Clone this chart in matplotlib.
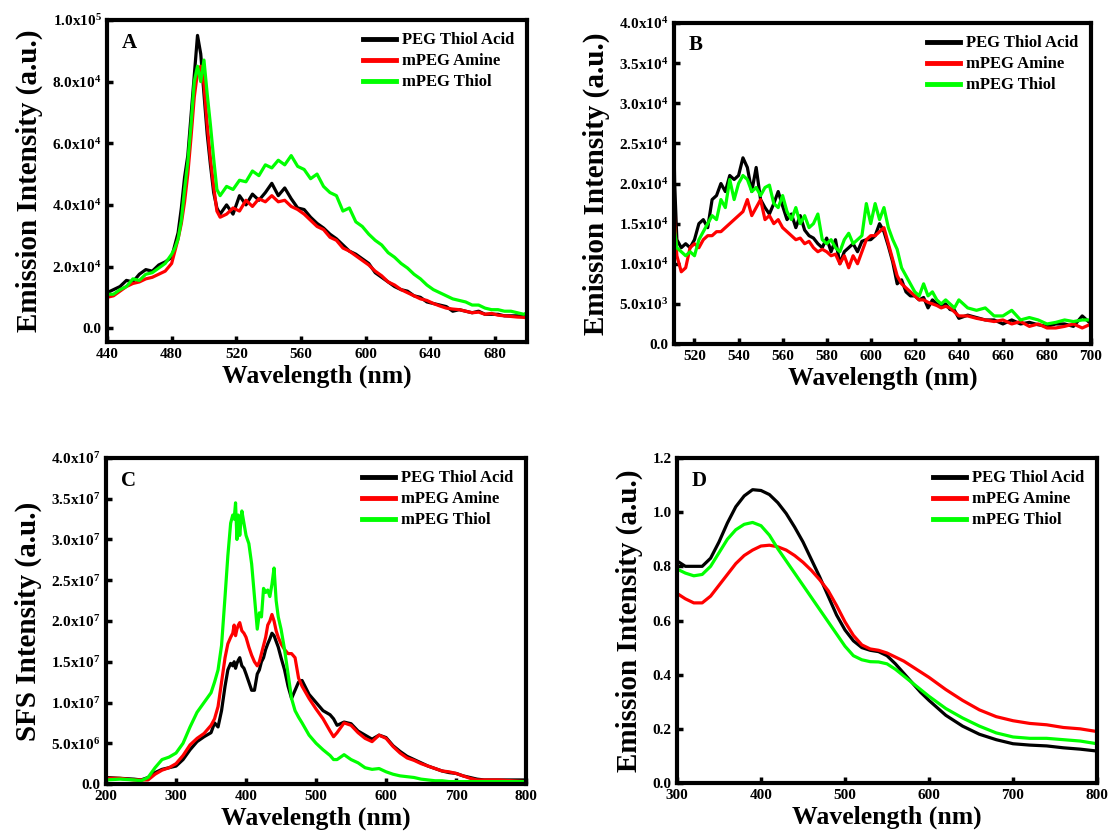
import numpy as np
import matplotlib
matplotlib.use("Agg")
import matplotlib.pyplot as plt
from matplotlib.ticker import FuncFormatter, FixedLocator

plt.rcParams['font.family'] = ['Liberation Serif', 'DejaVu Serif']
plt.rcParams['font.weight'] = 'bold'
plt.rcParams['mathtext.default'] = 'regular'

series_names = ['PEG Thiol Acid', 'mPEG Amine', 'mPEG Thiol']
series_colors = ['#000000', '#ff0000', '#00ff00']

# ---- Panel A: emission (x1e4) ----
wl_a = [440, 444, 448, 452, 456, 460, 464, 468, 472, 476, 480,
        482, 484, 486, 488, 490, 492, 494, 496, 498, 500, 502, 504, 506, 508, 510,
        514, 518, 522, 526, 530, 534, 538, 542, 546, 550,
        554, 558, 562, 566, 570, 574, 578, 582, 586, 590,
        594, 598, 602, 606, 610, 614, 618, 622, 626, 630,
        634, 638, 642, 646, 650, 654, 658, 662, 666, 670,
        674, 678, 682, 686, 690, 694, 698, 700]
a_acid = [1.15, 1.25, 1.35, 1.55, 1.5, 1.75, 1.9, 1.85, 2.05, 2.15, 2.3,
          2.7, 3.1, 3.9, 4.9, 5.6, 6.9, 8.2, 9.5, 8.9, 7.6, 6.3, 5.3, 4.4, 3.9, 3.7,
          4.0, 3.7, 4.3, 4.0, 4.35, 4.15, 4.4, 4.7, 4.3, 4.55,
          4.2, 3.9, 3.85, 3.6, 3.4, 3.25, 3.05, 2.9, 2.7, 2.5,
          2.4, 2.25, 2.1, 1.8, 1.65, 1.5, 1.35, 1.25, 1.2, 1.05,
          1.0, 0.85, 0.8, 0.75, 0.7, 0.55, 0.6, 0.55, 0.5, 0.55,
          0.45, 0.45, 0.45, 0.4, 0.4, 0.4, 0.38, 0.35]
a_amine = [1.0, 1.05, 1.2, 1.35, 1.45, 1.5, 1.6, 1.65, 1.75, 1.85, 2.1,
           2.5, 2.9, 3.4, 4.1, 5.0, 6.2, 7.5, 8.3, 8.5, 7.9, 6.6, 5.5, 4.6, 3.8, 3.6,
           3.7, 3.9, 3.8, 4.15, 3.95, 4.2, 4.1, 4.3, 4.1, 4.15,
           3.95, 3.85, 3.7, 3.5, 3.3, 3.2, 2.95, 2.85, 2.6, 2.5,
           2.35, 2.2, 2.05, 1.85, 1.7, 1.5, 1.4, 1.25, 1.15, 1.05,
           0.95, 0.9, 0.8, 0.72, 0.65, 0.62, 0.6, 0.55, 0.5, 0.52,
           0.45, 0.48, 0.42, 0.4, 0.38, 0.36, 0.35, 0.33]
a_thiol = [1.1, 1.1, 1.25, 1.35, 1.6, 1.55, 1.75, 1.8, 1.95, 2.1, 2.4,
           2.6, 2.9, 3.5, 4.5, 5.4, 6.6, 8.0, 8.5, 8.0, 8.7, 7.6, 6.6, 5.5, 4.5, 4.3,
           4.6, 4.5, 4.8, 4.75, 5.1, 4.95, 5.3, 5.2, 5.45, 5.3,
           5.6, 5.25, 5.15, 4.85, 5.0, 4.6, 4.4, 4.3, 3.8, 3.9,
           3.45, 3.3, 3.05, 2.85, 2.7, 2.45, 2.3, 2.1, 1.95, 1.75,
           1.6, 1.4, 1.25, 1.15, 1.05, 0.95, 0.9, 0.85, 0.75, 0.75,
           0.65, 0.6, 0.6, 0.55, 0.55, 0.5, 0.45, 0.5]

# ---- Panel B: emission (x1e4) ----
wl_b = [510, 511, 512, 514, 516, 518, 520, 522, 524, 526, 528, 530,
        532, 534, 536, 538, 540, 542, 544, 546, 548, 550,
        552, 554, 556, 558, 560, 562, 564, 566, 568, 570,
        572, 574, 576, 578, 580, 582, 584, 586, 588, 590,
        592, 594, 596, 598, 600, 602, 604, 606, 608, 610,
        612, 614, 616, 618, 620, 622, 624, 626, 628, 630,
        632, 634, 636, 638, 640, 644, 648, 652, 656, 660,
        664, 668, 672, 676, 680, 684, 688, 692, 696, 700]
b_acid = [3.6, 2.0, 1.3, 1.2, 1.25, 1.2, 1.3, 1.5, 1.55, 1.45, 1.8, 1.85,
          2.0, 1.9, 2.1, 2.05, 2.1, 2.32, 2.2, 1.9, 2.2, 1.8,
          1.7, 1.62, 1.75, 1.9, 1.72, 1.55, 1.62, 1.45, 1.6, 1.42,
          1.35, 1.32, 1.25, 1.2, 1.32, 1.15, 1.3, 1.0, 1.15, 1.2,
          1.25, 1.15, 1.28, 1.3, 1.3, 1.35, 1.5, 1.4, 1.22, 1.02,
          0.75, 0.8, 0.65, 0.6, 0.6, 0.55, 0.58, 0.45, 0.55, 0.5,
          0.47, 0.5, 0.43, 0.42, 0.32, 0.36, 0.33, 0.3, 0.3, 0.25,
          0.3, 0.25, 0.27, 0.24, 0.22, 0.25, 0.25, 0.22, 0.35, 0.25]
b_amine = [2.6, 1.5, 1.1, 0.9, 0.95, 1.2, 1.25, 1.2, 1.3, 1.35, 1.35, 1.4,
           1.4, 1.45, 1.5, 1.55, 1.6, 1.65, 1.8, 1.6, 1.7, 1.8,
           1.55, 1.6, 1.5, 1.55, 1.45, 1.4, 1.35, 1.3, 1.32, 1.25,
           1.28, 1.2, 1.15, 1.18, 1.15, 1.1, 1.12, 1.0, 1.1, 0.95,
           1.1, 1.0, 1.15, 1.3, 1.35, 1.35, 1.4, 1.45, 1.25, 1.05,
           0.85, 0.75, 0.7, 0.65, 0.6, 0.55, 0.55, 0.52, 0.5, 0.48,
           0.45, 0.47, 0.45, 0.4, 0.35, 0.35, 0.32, 0.3, 0.28, 0.3,
           0.25, 0.28, 0.22, 0.25, 0.2, 0.2, 0.22, 0.25, 0.2, 0.25]
b_thiol = [2.0, 1.4, 1.2, 1.15, 1.1, 1.15, 1.1, 1.3, 1.4, 1.5, 1.6, 1.55,
           1.8, 1.7, 2.05, 1.8, 2.0, 2.1, 2.05, 1.9, 1.95, 1.85,
           1.95, 1.98, 1.75, 1.7, 1.85, 1.65, 1.55, 1.7, 1.5, 1.6,
           1.45, 1.5, 1.62, 1.3, 1.25, 1.3, 1.2, 1.15, 1.3, 1.38,
           1.25, 1.3, 1.35, 1.75, 1.5, 1.75, 1.55, 1.7, 1.45, 1.3,
           1.18, 0.95, 0.85, 0.75, 0.65, 0.6, 0.75, 0.6, 0.65, 0.55,
           0.5, 0.55, 0.5, 0.45, 0.55, 0.45, 0.42, 0.45, 0.35, 0.35,
           0.42, 0.3, 0.33, 0.3, 0.25, 0.27, 0.3, 0.28, 0.3, 0.3]

# ---- Panel C: SFS (x1e7) ----
wl_c = [200, 220, 240, 250, 260, 270, 280, 290, 300, 310,
        320, 330, 340, 350, 355, 360, 365, 370, 374, 378,
        381, 383, 385, 387, 389, 391, 394, 397, 400, 404,
        408, 412, 416, 419, 422, 425, 428, 431, 434, 437,
        440, 443, 446, 450, 455, 460, 465, 470, 475, 480,
        490, 500, 510, 520, 525, 530, 540, 550, 560, 570,
        580, 590, 600, 610, 620, 630, 640, 650, 660, 670,
        680, 690, 700, 710, 720, 730, 740, 760, 780, 800]
c_acid = [0.08, 0.07, 0.06, 0.05, 0.08, 0.14, 0.18, 0.2, 0.22, 0.3,
          0.42, 0.52, 0.58, 0.63, 0.75, 0.7, 0.9, 1.2, 1.4, 1.48,
          1.45, 1.5, 1.42, 1.48, 1.52, 1.55, 1.45, 1.42, 1.35, 1.25,
          1.15, 1.15, 1.35, 1.4, 1.5, 1.55, 1.65, 1.72, 1.78, 1.85,
          1.82, 1.75, 1.68, 1.55, 1.4, 1.2, 1.05, 1.15, 1.25, 1.27,
          1.1, 1.0, 0.9, 0.85, 0.8, 0.72, 0.76, 0.74, 0.65, 0.6,
          0.55, 0.6, 0.57, 0.47, 0.4, 0.34, 0.3, 0.26, 0.22, 0.19,
          0.16, 0.14, 0.13, 0.1, 0.08, 0.06, 0.05, 0.05, 0.05, 0.05]
c_amine = [0.07, 0.07, 0.05, 0.05, 0.05, 0.12, 0.17, 0.2, 0.25, 0.35,
           0.48, 0.56, 0.62, 0.72, 0.8, 0.95, 1.25, 1.55, 1.72, 1.8,
           1.85, 1.95, 1.82, 1.9, 1.95, 1.98, 1.88, 1.85, 1.8, 1.68,
           1.58, 1.5, 1.45, 1.5, 1.6, 1.7, 1.8, 1.95, 2.0, 2.08,
           2.0, 1.88, 1.8, 1.72, 1.65, 1.6, 1.6, 1.55, 1.3, 1.2,
           1.05, 0.92, 0.8, 0.65, 0.58, 0.63, 0.75, 0.72, 0.63, 0.56,
           0.52, 0.6, 0.56, 0.46, 0.38, 0.32, 0.29, 0.25, 0.22, 0.19,
           0.16, 0.15, 0.13, 0.1, 0.07, 0.05, 0.05, 0.05, 0.04, 0.03]
c_thiol = [0.05, 0.06, 0.05, 0.04, 0.08, 0.2, 0.3, 0.33, 0.38, 0.5,
           0.7, 0.88, 1.0, 1.12, 1.25, 1.4, 1.7, 2.3, 2.8, 3.2,
           3.3, 3.25, 3.45, 3.0, 3.3, 3.05, 3.35, 3.2, 3.05, 2.95,
           2.7, 2.3, 1.9, 2.1, 2.05, 2.4, 2.35, 2.38, 2.3, 2.45,
           2.65, 2.25, 2.05, 1.9, 1.65, 1.35, 1.05, 0.9, 0.82, 0.75,
           0.6, 0.5, 0.42, 0.35, 0.3, 0.3, 0.36, 0.3, 0.26, 0.2,
           0.18, 0.19, 0.15, 0.12, 0.1, 0.09, 0.08, 0.06, 0.05, 0.04,
           0.04, 0.03, 0.03, 0.03, 0.03, 0.03, 0.03, 0.03, 0.03, 0.03]

# ---- Panel D: normalized emission ----
wl_d = [300, 310, 320, 330, 340, 350, 360, 370, 380, 390,
        400, 410, 420, 430, 440, 450, 460, 470, 480, 490,
        500, 510, 520, 530, 540, 550, 560, 570, 580, 590,
        600, 620, 640, 660, 680, 700, 720, 740, 760, 780, 800]
d_acid = [0.82, 0.80, 0.80, 0.80, 0.83, 0.89, 0.96, 1.02, 1.06, 1.083,
          1.08, 1.065, 1.035, 0.995, 0.945, 0.89, 0.825, 0.76, 0.69, 0.62,
          0.565, 0.525, 0.5, 0.49, 0.485, 0.47, 0.44, 0.405, 0.37, 0.335,
          0.305, 0.25, 0.21, 0.18, 0.16, 0.145, 0.14, 0.137, 0.13, 0.125, 0.118]
d_amine = [0.70, 0.68, 0.665, 0.665, 0.69, 0.73, 0.77, 0.81, 0.84, 0.86,
           0.875, 0.878, 0.872, 0.86, 0.84, 0.815, 0.785, 0.75, 0.71, 0.655,
           0.595, 0.545, 0.51, 0.495, 0.49, 0.48, 0.465, 0.45, 0.43, 0.41,
           0.39, 0.345, 0.305, 0.27, 0.245, 0.23, 0.22, 0.215, 0.205, 0.2, 0.19]
d_thiol = [0.79, 0.775, 0.765, 0.77, 0.80, 0.85, 0.90, 0.935, 0.955, 0.962,
           0.95, 0.915, 0.865, 0.82, 0.775, 0.73, 0.685, 0.64, 0.595, 0.55,
           0.505, 0.47, 0.455, 0.448, 0.447, 0.44, 0.42, 0.395, 0.37, 0.345,
           0.32, 0.275, 0.24, 0.21, 0.185, 0.17, 0.165, 0.165, 0.16, 0.155, 0.145]


def sci_label(v, pos):
    if abs(v) < 1e-12:
        return "0.0"
    e = int(np.floor(np.log10(abs(v)) + 1e-9))
    m = v / 10 ** e
    return f"{m:.1f}x10$^{{{e}}}$"


def style_axes(ax, letter, ylabel):
    for sp in ax.spines.values():
        sp.set_linewidth(3)
    ax.tick_params(direction='in', length=4.5, width=2.5, labelsize=11,
                   top=False, right=False, pad=4)
    for lab in ax.get_xticklabels() + ax.get_yticklabels():
        lab.set_fontweight('bold')
    ax.set_xlabel('Wavelength (nm)', fontsize=18.5, fontweight='bold', labelpad=3)
    ax.set_ylabel(ylabel, fontsize=21, fontweight='bold', labelpad=7)
    ax.text(0.035, 0.93, letter, transform=ax.transAxes, fontsize=15,
            fontweight='bold', va='center', ha='left')
    ax.legend(loc='upper right', frameon=False,
              handlelength=2.0, handletextpad=0.35, labelspacing=0.3,
              borderaxespad=0.35, prop={'weight': 'bold', 'size': 12})


fig = plt.figure(figsize=(11.08, 8.33), dpi=100)

panels = [
    ([0.0966, 0.5894, 0.3791, 0.3866], wl_a, [a_acid, a_amine, a_thiol], 1e4, 'A',
     'Emission Intensity (a.u.)', (440, 700), (-4.5e3, 1e5),
     [440, 480, 520, 560, 600, 640, 680], [0, 2e4, 4e4, 6e4, 8e4, 1e5], True),
    ([0.6083, 0.5870, 0.3764, 0.3854], wl_b, [b_acid, b_amine, b_thiol], 1e4, 'B',
     'Emission Intensity (a.u.)', (510.7, 700), (0, 4e4),
     [520, 540, 560, 580, 600, 620, 640, 660, 680, 700],
     [0, 5e3, 1e4, 1.5e4, 2e4, 2.5e4, 3e4, 3.5e4, 4e4], True),
    ([0.0957, 0.0588, 0.3791, 0.3914], wl_c, [c_acid, c_amine, c_thiol], 1e7, 'C',
     'SFS Intensity (a.u.)', (200, 800), (0, 4e7),
     [200, 300, 400, 500, 600, 700, 800],
     [0, 5e6, 1e7, 1.5e7, 2e7, 2.5e7, 3e7, 3.5e7, 4e7], True),
    ([0.6110, 0.0600, 0.3791, 0.3902], wl_d, [d_acid, d_amine, d_thiol], 1, 'D',
     'Emission Intensity (a.u.)', (300, 800), (0, 1.2),
     [300, 400, 500, 600, 700, 800], [0, 0.2, 0.4, 0.6, 0.8, 1.0, 1.2], False),
]

for rect, wl, ys, scale, letter, ylabel, xlim, ylim, xt, yt, sci in panels:
    ax = fig.add_axes(rect)
    for y, name, col in zip(ys, series_names, series_colors):
        ax.plot(wl, np.array(y) * scale, color=col, linewidth=2.3, label=name)
    ax.set_xlim(*xlim)
    ax.set_ylim(*ylim)
    ax.xaxis.set_major_locator(FixedLocator(xt))
    ax.yaxis.set_major_locator(FixedLocator(yt))
    if sci:
        ax.yaxis.set_major_formatter(FuncFormatter(sci_label))
    else:
        ax.yaxis.set_major_formatter(FuncFormatter(lambda v, p: f"{v:.1f}"))
    style_axes(ax, letter, ylabel)
    for line in ax.get_legend().get_lines():
        line.set_linewidth(3.5)

fig.savefig('out.png', dpi=100)
